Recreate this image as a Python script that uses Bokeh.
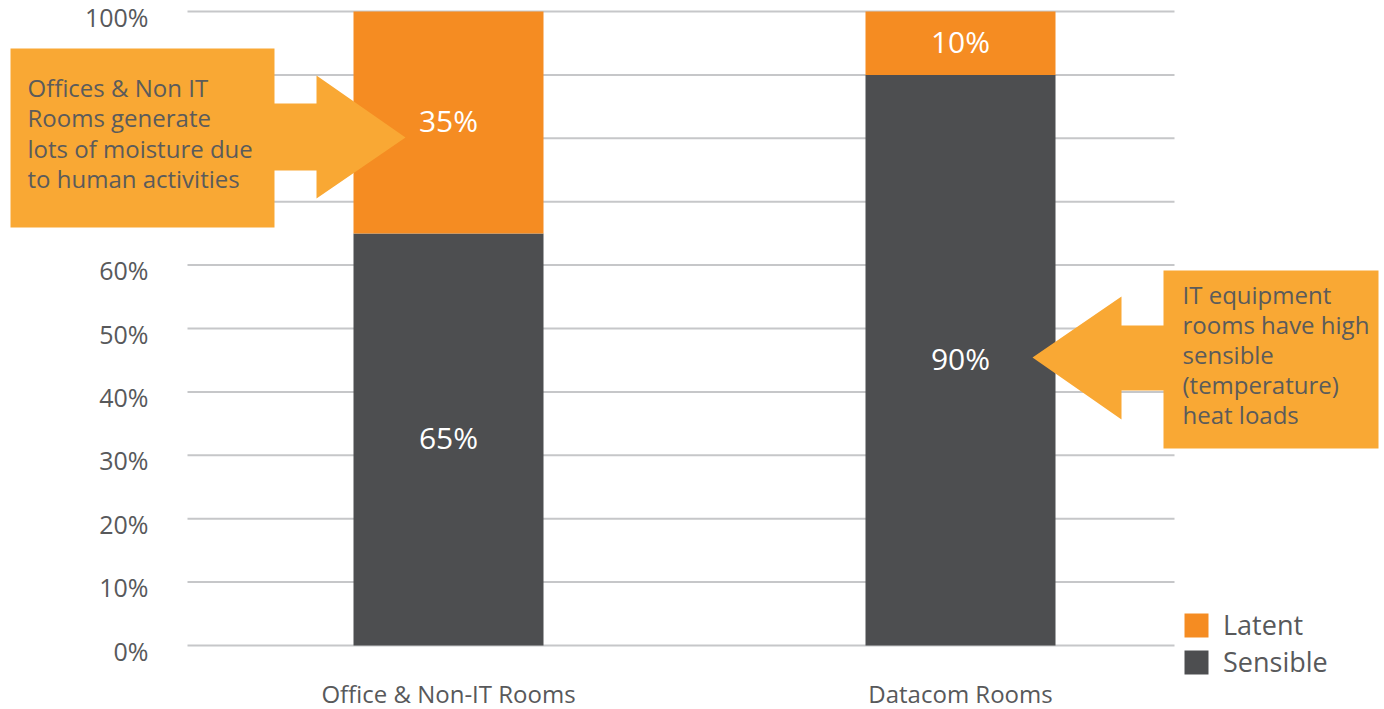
from bokeh.plotting import figure
from bokeh.models import ColumnDataSource, Range1d, Legend, LegendItem
from bokeh.core.properties import value
from bokeh.embed import file_html
from bokeh.resources import INLINE

# ---- data ----
categories = ["Office & Non-IT Rooms", "Datacom Rooms"]
sensible = [65, 90]
latent = [35, 10]
y_ticks = [0, 10, 20, 30, 40, 50, 60, 70, 80, 90, 100]
y_tick_labels = ["0%", "10%", "20%", "30%", "40%", "50%", "60%", "70%", "80%", "90%", "100%"]
series_names = ["Sensible", "Latent"]
left_note = ["Offices & Non IT", "Rooms generate", "lots of moisture due", "to human activities"]
right_note = ["IT equipment", "rooms have high", "sensible", "(temperature)", "heat loads"]

# ---- styling ----
ORANGE = "#f58c22"
DARK = "#4d4e50"
CALLOUT = "#f9a834"
GRID = "#c6c7c9"
TEXT = "#58595b"
FONT = value("Open Sans")

W, H = 1384, 709
# pixel geometry helpers (screen px -> data units)
PX_X = 512.0           # px per category unit
X0_SCREEN = 448.0      # screen x of first category
PX_Y = 6.34            # px per percent
Y0_SCREEN = 645.0      # screen y of 0%


def dx(sx):
    return (sx - X0_SCREEN) / PX_X


def dy(sy):
    return (Y0_SCREEN - sy) / PX_Y


p = figure(width=W, height=H, output_backend="svg", toolbar_location=None,
           x_axis_type=None, y_axis_type=None,
           x_range=Range1d(dx(0), dx(W)), y_range=Range1d(dy(H), dy(0)),
           min_border=0, outline_line_color=None)
p.background_fill_color = "white"

xs = list(range(len(categories)))

# gridlines
p.segment(x0=[dx(187)] * len(y_ticks), x1=[dx(1174)] * len(y_ticks),
          y0=y_ticks, y1=y_ticks, line_color=GRID, line_width=2)

# y tick labels (sit slightly below their gridlines, as in the original)
lab_shift = 5.0 / PX_Y
p.text(x=[dx(148)] * len(y_ticks), y=[t - lab_shift for t in y_ticks], text=y_tick_labels,
       text_align="right", text_baseline="middle", text_font=FONT,
       text_font_size="25px", text_color=TEXT)

# category labels
p.text(x=xs, y=[dy(693)] * len(xs), text=categories, text_align="center",
       text_baseline="middle", text_font=FONT, text_font_size="24px", text_color=TEXT)

# stacked bars
src = ColumnDataSource(dict(x=xs, Sensible=sensible, Latent=latent))
bw = 190.0 / PX_X
rs = p.vbar_stack(series_names, x="x", width=bw, source=src, color=[DARK, ORANGE],
                  line_color=None)

# bar value labels
vshift = 2.0 / PX_Y
lab_x, lab_y, lab_t = [], [], []
for i in xs:
    lab_x += [i, i]
    lab_y += [sensible[i] / 2.0 + vshift, sensible[i] + latent[i] / 2.0 + vshift]
    lab_t += [f"{sensible[i]}%", f"{latent[i]}%"]
p.text(x=lab_x, y=lab_y, text=lab_t, text_align="center", text_baseline="middle",
       text_font=FONT, text_font_size="30px", text_color="white")

# callouts (box + arrow)
left_poly = [(10, 48), (274, 48), (274, 103), (316, 103), (316, 75), (405, 137),
             (316, 198), (316, 170), (274, 170), (274, 227), (10, 227)]
right_poly = [(1378, 270), (1163, 270), (1163, 325), (1121, 325), (1121, 296),
              (1032, 357), (1121, 419), (1121, 390), (1163, 390), (1163, 448), (1378, 448)]
p.patches(xs=[[dx(a) for a, b in left_poly], [dx(a) for a, b in right_poly]],
          ys=[[dy(b) for a, b in left_poly], [dy(b) for a, b in right_poly]],
          fill_color=CALLOUT, line_color=None)

p.text(x=[dx(27)] * len(left_note), y=[dy(87 + 30.3 * i) for i in range(len(left_note))],
       text=left_note, text_align="left", text_baseline="middle", text_font=FONT,
       text_font_size="24px", text_color="#5b5b5b")
p.text(x=[dx(1182)] * len(right_note), y=[dy(294 + 30 * i) for i in range(len(right_note))],
       text=right_note, text_align="left", text_baseline="middle", text_font=FONT,
       text_font_size="24px", text_color="#5b5b5b")

# legend
legend = Legend(items=[LegendItem(label="Latent", renderers=[rs[1]]),
                       LegendItem(label="Sensible", renderers=[rs[0]])],
                location=(1181, 29), orientation="vertical",
                glyph_width=30, glyph_height=30, label_height=24, spacing=-10,
                label_standoff=12, padding=0, margin=0,
                border_line_color=None, background_fill_alpha=0,
                label_text_font="Open Sans", label_text_font_size="27px",
                label_text_color=TEXT, label_text_baseline="middle")
p.add_layout(legend)

open("out.html", "w").write(file_html(p, INLINE))
